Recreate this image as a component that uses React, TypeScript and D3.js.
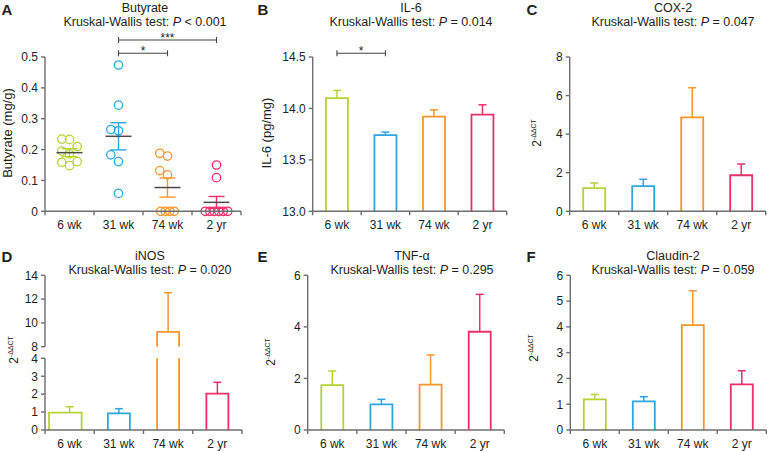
import React from "react";
import * as d3 from "d3";

// ---------- data ----------
const groups = ["6 wk", "31 wk", "74 wk", "2 yr"];
const groupColors = ["#b5d334", "#2ea6e0", "#f7962b", "#ea2f6a"];

const butyrate6wk = [0.233, 0.234, 0.21, 0.195, 0.186, 0.161, 0.159, 0.148];
const butyrate31wk = [0.474, 0.344, 0.265, 0.261, 0.183, 0.161, 0.058];
const butyrate74wk = [0.188, 0.179, 0.132, 0.118, 0, 0, 0, 0];
const butyrate2yr = [0.15, 0.109, 0, 0, 0, 0, 0, 0];
const butyrateMean = [0.19, 0.243, 0.077, 0.029];
const butyrateSem = [0.013, 0.044, 0.031, 0.019];
const butyrateTicks = [0, 0.1, 0.2, 0.3, 0.4, 0.5];

const il6Mean = [14.1, 13.74, 13.92, 13.94];
const il6Err = [0.075, 0.03, 0.066, 0.095];
const il6Ticks = [13.0, 13.5, 14.0, 14.5];

const cox2Mean = [1.2, 1.31, 4.87, 1.87];
const cox2Err = [0.27, 0.35, 1.54, 0.58];
const cox2Ticks = [0, 2, 4, 6, 8];

const inosMean = [0.97, 0.93, 9.24, 2.03];
const inosErr = [0.33, 0.26, 3.3, 0.63];
const inosLowTicks = [0, 1, 2, 3, 4];
const inosHighTicks = [8, 10, 12, 14];

const tnfMean = [1.74, 0.99, 1.76, 3.81];
const tnfErr = [0.55, 0.2, 1.15, 1.45];
const tnfTicks = [0, 2, 4, 6];

const claudinMean = [1.19, 1.11, 4.07, 1.77];
const claudinErr = [0.19, 0.18, 1.33, 0.53];
const claudinTicks = [0, 1, 2, 3, 4, 5, 6];

// ---------- style ----------
const FONT = "'Liberation Sans', Arial, Helvetica, sans-serif";
const TEXT = "#231f20";
const AXIS = "#6d6e71";
const MEAN = "#4a4a4a";
const BAR_W = 22;

type Layout = {
  x0: number; w: number; yTop: number; yBot: number;
  letter: string; lx: number; ly: number;
  title: string; tx: number; ty: number;
};

function Title({ L, name, p }: { L: Layout; name: string; p: string }) {
  return (
    <g fontFamily={FONT} fill={TEXT}>
      <text x={L.lx} y={L.ly} fontSize={15} fontWeight="bold">{L.letter}</text>
      <text x={L.tx} y={L.ty} fontSize={12.5} textAnchor="middle">{name}</text>
      <text x={L.tx} y={L.ty + 14} fontSize={12.5} textAnchor="middle">
        Kruskal-Wallis test: <tspan fontStyle="italic">P</tspan> {p}
      </text>
    </g>
  );
}

function XAxis({ x, y }: { x: d3.ScaleBand<string>; y: number }) {
  const [a, b] = x.range();
  const bounds = d3.range(groups.length + 1).map((i) => a + i * x.step());
  return (
    <g>
      <line x1={a} x2={b} y1={y} y2={y} stroke={AXIS} strokeWidth={1.4} />
      {bounds.map((bx, i) => (
        <line key={i} x1={bx} x2={bx} y1={y} y2={y + 4} stroke={AXIS} strokeWidth={1.4} />
      ))}
      {groups.map((g) => (
        <text key={g} x={(x(g) as number) + x.bandwidth() / 2} y={y + 17.5} fontSize={12}
          fontFamily={FONT} fill={TEXT} textAnchor="middle">{g}</text>
      ))}
    </g>
  );
}

function YAxis({ y, ticks, x0, fmt }: { y: d3.ScaleLinear<number, number>; ticks: number[]; x0: number; fmt: (v: number) => string }) {
  const r = y.range();
  return (
    <g>
      <line x1={x0} x2={x0} y1={r[0]} y2={r[1]} stroke={AXIS} strokeWidth={1.4} />
      {ticks.map((t) => (
        <g key={t}>
          <line x1={x0 - 4} x2={x0} y1={y(t)} y2={y(t)} stroke={AXIS} strokeWidth={1.4} />
          <text x={x0 - 7} y={y(t)} dy="0.36em" fontSize={12} fontFamily={FONT} fill={TEXT} textAnchor="end">{fmt(t)}</text>
        </g>
      ))}
    </g>
  );
}

function YLabelDelta({ x, y }: { x: number; y: number }) {
  return (
    <text transform={`translate(${x},${y}) rotate(-90)`} textAnchor="middle" fontFamily={FONT} fill={TEXT} fontSize={12}>
      2<tspan dy={-5} fontSize={7}>-ΔΔCT</tspan>
    </text>
  );
}

function YLabel({ x, y, text }: { x: number; y: number; text: string }) {
  return (
    <text transform={`translate(${x},${y}) rotate(-90)`} textAnchor="middle" fontFamily={FONT} fill={TEXT} fontSize={13}>
      {text}
    </text>
  );
}

function Bracket({ x1, x2, y, label }: { x1: number; x2: number; y: number; label: string }) {
  return (
    <g stroke="#444" strokeWidth={1.1}>
      <line x1={x1} x2={x2} y1={y} y2={y} />
      <line x1={x1} x2={x1} y1={y - 3} y2={y + 3} />
      <line x1={x2} x2={x2} y1={y - 3} y2={y + 3} />
      <text x={(x1 + x2) / 2} y={y + 2} stroke="none" fill={TEXT} fontFamily={FONT} fontSize={12} textAnchor="middle">{label}</text>
    </g>
  );
}

// ---------- beeswarm dodge ----------
function dodge(values: number[], ys: (v: number) => number, step: number, tieStep: number) {
  const xs = new Array(values.length).fill(0);
  const placed: { x: number; y: number }[] = [];
  // ties as compact rows
  const counts = d3.rollup(values, (v) => v.length, (v) => v);
  const tieSeen = new Map<number, number>();
  values.forEach((v, i) => {
    const c = counts.get(v) as number;
    if (c > 2) {
      const k = tieSeen.get(v) || 0;
      tieSeen.set(v, k + 1);
      xs[i] = (k - (c - 1) / 2) * tieStep;
      placed.push({ x: xs[i], y: ys(v) });
    }
  });
  const order = d3.range(values.length).filter((i) => (counts.get(values[i]) as number) <= 2)
    .sort((a, b) => values[a] - values[b]);
  order.forEach((i) => {
    const py = ys(values[i]);
    const cands = [0, -step, step, -2 * step, 2 * step];
    for (const c of cands) {
      if (placed.every((p) => Math.hypot(p.x - c, p.y - py) >= step - 0.05)) {
        xs[i] = c;
        break;
      }
    }
    placed.push({ x: xs[i], y: py });
  });
  return xs;
}

// ---------- panels ----------
function PanelA() {
  const L: Layout = { x0: 45, w: 196, yTop: 57, yBot: 211.3, letter: "A", lx: 1.5, ly: 14.5, title: "Butyrate", tx: 145, ty: 12 };
  const x = d3.scaleBand<string>().domain(groups).range([L.x0, L.x0 + L.w]);
  const y = d3.scaleLinear().domain([0, 0.5]).range([L.yBot, L.yTop]);
  const series = [butyrate6wk, butyrate31wk, butyrate74wk, butyrate2yr];
  const cx = (i: number) => (x(groups[i]) as number) + x.bandwidth() / 2;
  return (
    <g>
      <Title L={L} name="Butyrate" p="< 0.001" />
      <Bracket x1={cx(1)} x2={cx(3)} y={40} label="***" />
      <Bracket x1={cx(1)} x2={cx(2)} y={53.3} label="*" />
      {series.map((vals, gi) => {
        const offs = dodge(vals, y, 7.7, 4.5);
        const m = butyrateMean[gi];
        const s = butyrateSem[gi];
        const c = cx(gi);
        return (
          <g key={gi}>
            {vals.map((v, i) => (
              <circle key={i} cx={c + offs[i]} cy={y(v)} r={4.2} fill="none" stroke={groupColors[gi]} strokeWidth={1.3} />
            ))}
            <line x1={c} x2={c} y1={y(m - s)} y2={y(m + s)} stroke={groupColors[gi]} strokeWidth={1.4} />
            <line x1={c - 8} x2={c + 8} y1={y(m + s)} y2={y(m + s)} stroke={groupColors[gi]} strokeWidth={1.4} />
            <line x1={c - 8} x2={c + 8} y1={y(m - s)} y2={y(m - s)} stroke={groupColors[gi]} strokeWidth={1.4} />
            <line x1={c - 13} x2={c + 13} y1={y(m)} y2={y(m)} stroke={MEAN} strokeWidth={1.5} />
          </g>
        );
      })}
      <YAxis y={y} ticks={butyrateTicks} x0={L.x0} fmt={(v) => (v === 0 ? "0" : d3.format(".1f")(v))} />
      <XAxis x={x} y={L.yBot} />
      <YLabel x={11.5} y={133} text="Butyrate (mg/g)" />
    </g>
  );
}

type BarProps = {
  L: Layout; domain: [number, number]; ticks: number[]; fmt: (v: number) => string;
  mean: number[]; err: number[]; p: string;
};

function Bars({ x, y, mean, err, base, widenFirst }: { x: d3.ScaleBand<string>; y: (v: number) => number; mean: number[]; err: number[]; base: number; widenFirst?: boolean }) {
  return (
    <g>
      {mean.map((m, i) => {
        const c = (x(groups[i]) as number) + x.bandwidth() / 2;
        const left = widenFirst && i === 0 ? (x.range()[0] as number) + 4 : c - BAR_W / 2;
        const right = widenFirst && i === 0 ? c + 12 : c + BAR_W / 2;
        const col = groupColors[i];
        return (
          <g key={i} stroke={col} fill="none">
            <line x1={c} x2={c} y1={y(m)} y2={y(m + err[i])} strokeWidth={1.5} />
            <line x1={c - 4} x2={c + 4} y1={y(m + err[i])} y2={y(m + err[i])} strokeWidth={1.5} />
            <path d={`M${left},${base}V${y(m)}H${right}V${base}`} strokeWidth={1.8} fill="#fff" />
          </g>
        );
      })}
    </g>
  );
}

function BarPanel({ L, domain, ticks, fmt, mean, err, p, ylabel }: BarProps & { ylabel: React.ReactNode }) {
  const x = d3.scaleBand<string>().domain(groups).range([L.x0, L.x0 + L.w]);
  const y = d3.scaleLinear().domain(domain).range([L.yBot, L.yTop]);
  return (
    <g>
      <Title L={L} name={L.title} p={p} />
      <Bars x={x} y={y} mean={mean} err={err} base={L.yBot} />
      <YAxis y={y} ticks={ticks} x0={L.x0} fmt={fmt} />
      <XAxis x={x} y={L.yBot} />
      {ylabel}
    </g>
  );
}

function PanelB() {
  const L: Layout = { x0: 312.7, w: 194, yTop: 57, yBot: 211.3, letter: "B", lx: 257.5, ly: 14.5, title: "IL-6", tx: 411, ty: 12 };
  const x = d3.scaleBand<string>().domain(groups).range([L.x0, L.x0 + L.w]);
  const cx = (i: number) => (x(groups[i]) as number) + x.bandwidth() / 2;
  return (
    <g>
      <BarPanel L={L} domain={[13, 14.5]} ticks={il6Ticks} fmt={d3.format(".1f")} mean={il6Mean} err={il6Err} p="= 0.014"
        ylabel={<YLabel x={271} y={133} text="IL-6 (pg/mg)" />} />
      <Bracket x1={cx(0)} x2={cx(1)} y={53.3} label="*" />
    </g>
  );
}

function PanelC() {
  const L: Layout = { x0: 569.7, w: 196, yTop: 57, yBot: 211.3, letter: "C", lx: 526.5, ly: 14.5, title: "COX-2", tx: 673, ty: 12 };
  return <BarPanel L={L} domain={[0, 8]} ticks={cox2Ticks} fmt={d3.format("d")} mean={cox2Mean} err={cox2Err} p="= 0.047"
    ylabel={<YLabelDelta x={541} y={133} />} />;
}

function PanelD() {
  const L: Layout = { x0: 45, w: 197, yTop: 275.3, yBot: 430, letter: "D", lx: 1.5, ly: 261.5, title: "iNOS", tx: 150, ty: 259.5 };
  const x = d3.scaleBand<string>().domain(groups).range([L.x0, L.x0 + L.w]);
  const yLow = d3.scaleLinear().domain([0, 4]).range([430, 358.3]);
  const yHigh = d3.scaleLinear().domain([8, 14]).range([346.7, L.yTop]);
  const y = (v: number) => (v <= 4 ? yLow(v) : v >= 8 ? yHigh(v) : (yLow(4) + yHigh(8)) / 2);
  return (
    <g>
      <Title L={L} name={L.title} p="= 0.020" />
      {inosMean.map((m, i) => {
        const c = (x(groups[i]) as number) + x.bandwidth() / 2;
        const left = i === 0 ? L.x0 + 4 : c - BAR_W / 2;
        const right = i === 0 ? c + 12 : c + BAR_W / 2;
        const col = groupColors[i];
        const top = m + inosErr[i];
        const broken = m >= 8;
        return (
          <g key={i} stroke={col} fill="none">
            <line x1={c} x2={c} y1={y(m)} y2={y(top)} strokeWidth={1.5} />
            <line x1={c - 4} x2={c + 4} y1={y(top)} y2={y(top)} strokeWidth={1.5} />
            {broken ? (
              <g strokeWidth={1.8}>
                <path d={`M${left},${yLow(0)}V${yLow(4)}M${right},${yLow(0)}V${yLow(4)}`} />
                <path d={`M${left},${yHigh(8)}V${yHigh(m)}H${right}V${yHigh(8)}`} />
              </g>
            ) : (
              <path d={`M${left},${yLow(0)}V${yLow(m)}H${right}V${yLow(0)}`} strokeWidth={1.8} />
            )}
          </g>
        );
      })}
      <YAxis y={yLow} ticks={inosLowTicks} x0={L.x0} fmt={d3.format("d")} />
      <YAxis y={yHigh} ticks={inosHighTicks} x0={L.x0} fmt={d3.format("d")} />
      <XAxis x={x} y={L.yBot} />
      <YLabelDelta x={18} y={350} />
    </g>
  );
}

function PanelE() {
  const L: Layout = { x0: 307.7, w: 196.6, yTop: 275.3, yBot: 430, letter: "E", lx: 257.5, ly: 261.5, title: "TNF-α", tx: 412, ty: 259.5 };
  return <BarPanel L={L} domain={[0, 6]} ticks={tnfTicks} fmt={d3.format("d")} mean={tnfMean} err={tnfErr} p="= 0.295"
    ylabel={<YLabelDelta x={275} y={352} />} />;
}

function PanelF() {
  const L: Layout = { x0: 570.3, w: 196, yTop: 275.3, yBot: 430, letter: "F", lx: 526.5, ly: 261.5, title: "Claudin-2", tx: 673, ty: 259.5 };
  return <BarPanel L={L} domain={[0, 6]} ticks={claudinTicks} fmt={d3.format("d")} mean={claudinMean} err={claudinErr} p="= 0.059"
    ylabel={<YLabelDelta x={538} y={348} />} />;
}

export default function App() {
  return (
    <svg width={768} height={451} viewBox="0 0 768 451"
      style={{ position: "absolute", left: 0, top: 0, background: "#fff", display: "block" }}>
      <rect width={768} height={451} fill="#fff" />
      <PanelA />
      <PanelB />
      <PanelC />
      <PanelD />
      <PanelE />
      <PanelF />
    </svg>
  );
}
